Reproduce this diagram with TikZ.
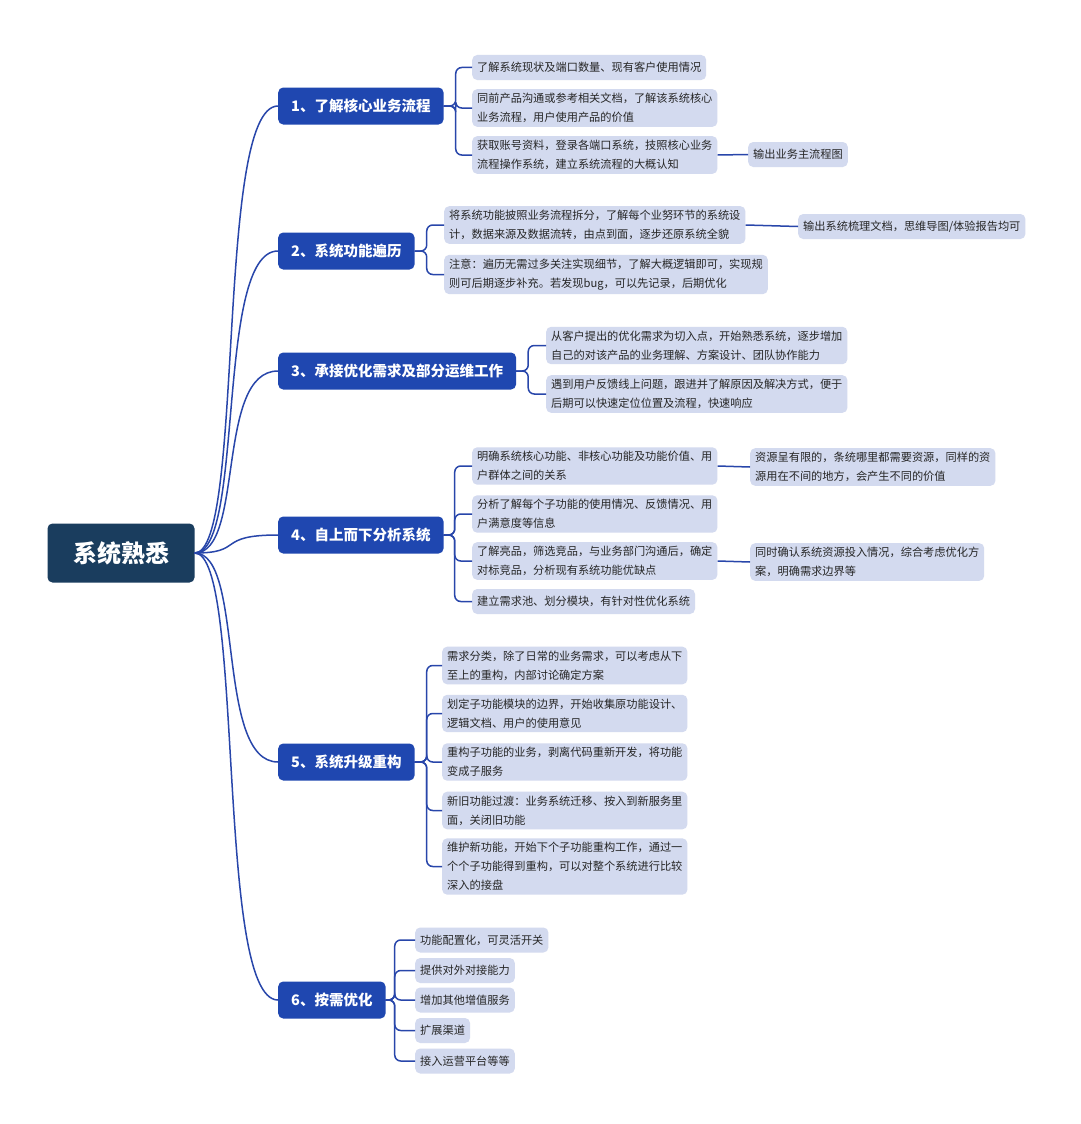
\documentclass[tikz,border=0pt]{standalone}
\usepackage{fontspec}
\setmainfont{Noto Sans CJK SC}
\usetikzlibrary{positioning}
\definecolor{rootnavy}{RGB}{26,61,94}
\definecolor{branchblue}{RGB}{31,71,176}
\definecolor{leafgray}{RGB}{211,218,239}
\definecolor{linkblue}{RGB}{40,70,170}
\tikzset{
  root/.style={fill=rootnavy,text=white,rounded corners=5pt,minimum width=147pt,
    minimum height=59pt,font=\fontsize{24}{28}\selectfont\bfseries},
  branch/.style={fill=branchblue,text=white,rounded corners=5pt,minimum height=37pt,
    inner xsep=13pt,anchor=west,font=\fontsize{14.5}{18}\selectfont\bfseries},
  leaf/.style={fill=leafgray,text=black!85,rounded corners=5pt,anchor=west,align=left,
    inner xsep=5pt,inner ysep=4pt,minimum height=25pt,font=\fontsize{11.2}{19}\selectfont},
  link/.style={draw=linkblue,line width=1.5pt,rounded corners=6pt},
}
\begin{document}
\begin{tikzpicture}[x=1pt,y=-1pt]
  \useasboundingbox[fill=white] (0,0) rectangle (1080,1124);
  \node[root] (root) at (121,553) {系统熟悉};

  % branches
  \node[branch] (b1) at (278,106) {1、了解核心业务流程};
  \node[branch] (b2) at (278,251) {2、系统功能遍历};
  \node[branch] (b3) at (278,371) {3、承接优化需求及部分运维工作};
  \node[branch] (b4) at (278,535) {4、自上而下分析系统};
  \node[branch] (b5) at (278,762) {5、系统升级重构};
  \node[branch] (b6) at (278,1000) {6、按需优化};
  \foreach \b in {b1,b2,b3,b4,b5,b6}
    \draw[link,rounded corners=0pt] (root.east) .. controls (245,553) and (215,0|-\b.west) .. (\b.west);

  % 1
  \node[leaf] (l11) at (472,67.5) {了解系统现状及端口数量、现有客户使用情况};
  \node[leaf] (l12) at (472,108) {同前产品沟通或参考相关文档，了解该系统核心\\业务流程，用户使用产品的价值};
  \node[leaf] (l13) at (472,155) {获取账号资料，登录各端口系统，技照核心业务\\流程操作系统，建立系统流程的大概认知};
  \node[leaf] (c13) at (748,154.5) {输出业务主流程图};
  % 2
  \node[leaf] (l21) at (444,225) {将系统功能披照业务流程拆分，了解每个业努环节的系统设\\计，数据来源及数据流转，由点到面，逐步还原系统全貌};
  \node[leaf] (l22) at (444,274.5) {注意：遍历无需过多关注实现细节，了解大概逻辑即可，实现规\\则可后期逐步补充。若发现bug，可以先记录，后期优化};
  \node[leaf] (c21) at (798,226.5) {输出系统梳理文档，思维导图/体验报告均可};
  % 3
  \node[leaf] (l31) at (546,345.5) {从客户提出的优化需求为切入点，开始熟悉系统，逐步增加\\自己的对该产品的业务理解、方案设计、团队协作能力};
  \node[leaf] (l32) at (546,394) {遇到用户反馈线上问题，跟进并了解原因及解决方式，便于\\后期可以快速定位位置及流程，快速响应};
  % 4
  \node[leaf] (l41) at (472,466) {明确系统核心功能、非核心功能及功能价值、用\\户群体之间的关系};
  \node[leaf] (l42) at (472,514) {分析了解每个子功能的使用情况、反馈情况、用\\户满意度等信息};
  \node[leaf] (l43) at (472,561) {了解亮品，筛选竞品，与业务部门沟通后，确定\\对标竞品，分析现有系统功能优缺点};
  \node[leaf] (l44) at (472,601.5) {建立需求池、划分模块，有针对性优化系统};
  \node[leaf] (c41) at (750,467) {资源呈有限的，条统哪里都需要资源，同样的资\\源用在不间的地方，会产生不同的价值};
  \node[leaf] (c43) at (750,562) {同时确认系统资源投入情况，综合考虑优化方\\案，明确需求边界等};
  % 5
  \node[leaf] (l51) at (442,665.5) {需求分类，除了日常的业务需求，可以考虑从下\\至上的重构，内部讨论确定方案};
  \node[leaf] (l52) at (442,713.5) {划定子功能模块的边界，开始收集原功能设计、\\逻辑文档、用户的使用意见};
  \node[leaf] (l53) at (442,762) {重构子功能的业务，剥离代码重新开发，将功能\\变成子服务};
  \node[leaf] (l54) at (442,810.5) {新旧功能过渡：业务系统迁移、按入到新服务里\\面，关闭旧功能};
  \node[leaf] (l55) at (442,866.5) {维护新功能，开始下个子功能重构工作，通过一\\个个子功能得到重构，可以对整个系统进行比较\\深入的接盘};
  % 6
  \node[leaf] (l61) at (415,940) {功能配置化，可灵活开关};
  \node[leaf] (l62) at (415,970.5) {提供对外对接能力};
  \node[leaf] (l63) at (415,1000) {增加其他增值服务};
  \node[leaf] (l64) at (415,1030.5) {扩展渠道};
  \node[leaf] (l65) at (415,1061) {接入运营平台等等};

  % brackets
  \foreach \l in {l11,l12,l13} \draw[link] (b1.east) -- ++(12,0) |- (\l.west);
  \foreach \l in {l21,l22} \draw[link] (b2.east) -- ++(12,0) |- (\l.west);
  \foreach \l in {l31,l32} \draw[link] (b3.east) -- ++(12,0) |- (\l.west);
  \foreach \l in {l41,l42,l43,l44} \draw[link] (b4.east) -- ++(11,0) |- (\l.west);
  \foreach \l in {l51,l52,l53,l54,l55} \draw[link] (b5.east) -- ++(12,0) |- (\l.west);
  \foreach \l in {l61,l62,l63,l64,l65} \draw[link] (b6.east) -- ++(9,0) |- (\l.west);
  \draw[link] (l13.east) -- (c13.west);
  \draw[link] (l21.east) -- (c21.west);
  \draw[link] (l41.east) -- (c41.west);
  \draw[link] (l43.east) -- (c43.west);
\end{tikzpicture}
\end{document}
